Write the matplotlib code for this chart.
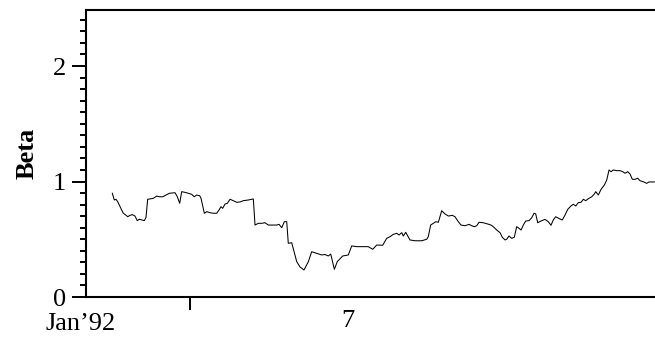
import matplotlib
matplotlib.use("Agg")
import matplotlib.pyplot as plt
import matplotlib.transforms as mtransforms
from matplotlib.ticker import MultipleLocator

# years since Jan'92
t_years = [0.253, 0.272, 0.288, 0.305, 0.324, 0.343, 0.359, 0.382, 0.401, 0.423,
           0.445, 0.471, 0.493, 0.513, 0.536, 0.561, 0.577, 0.593, 0.615, 0.647,
           0.680, 0.705, 0.738, 0.769, 0.801, 0.856, 0.878, 0.901, 0.920, 0.952,
           0.984, 1.016, 1.041, 1.064, 1.093, 1.106, 1.138, 1.161, 1.192, 1.224,
           1.257, 1.279, 1.298, 1.314, 1.337, 1.359, 1.385, 1.416, 1.449, 1.481,
           1.513, 1.561, 1.609, 1.625, 1.657, 1.689, 1.721, 1.753, 1.801, 1.834,
           1.856, 1.882, 1.907, 1.930, 1.945, 1.978, 2.026, 2.058, 2.096, 2.138,
           2.170, 2.218, 2.266, 2.298, 2.330, 2.353, 2.388, 2.416, 2.468, 2.522,
           2.555, 2.603, 2.666, 2.714, 2.757, 2.795, 2.853, 2.891, 2.923, 2.955,
           2.988, 3.010, 3.036, 3.051, 3.074, 3.115, 3.163, 3.228, 3.276, 3.291,
           3.314, 3.339, 3.363, 3.388, 3.420, 3.452, 3.484, 3.522, 3.548, 3.580,
           3.606, 3.644, 3.683, 3.709, 3.734, 3.757, 3.779, 3.820, 3.863, 3.894,
           3.916, 3.949, 3.981, 4.003, 4.029, 4.045, 4.067, 4.093, 4.118, 4.141,
           4.163, 4.183, 4.205, 4.228, 4.260, 4.286, 4.308, 4.324, 4.343, 4.375,
           4.413, 4.445, 4.471, 4.493, 4.516, 4.558, 4.580, 4.606, 4.632, 4.663,
           4.686, 4.709, 4.734, 4.760, 4.782, 4.805, 4.830, 4.863, 4.888, 4.901,
           4.926, 4.952, 4.984, 5.007, 5.029, 5.048, 5.070, 5.103, 5.135, 5.161,
           5.183, 5.209, 5.231, 5.253, 5.279, 5.305, 5.327, 5.359, 5.391, 5.413,
           5.471]

beta = [0.898, 0.840, 0.846, 0.825, 0.788, 0.753, 0.725, 0.710, 0.695, 0.707,
        0.713, 0.701, 0.661, 0.673, 0.667, 0.661, 0.690, 0.846, 0.849, 0.854,
        0.874, 0.868, 0.868, 0.883, 0.898, 0.903, 0.868, 0.811, 0.912, 0.906,
        0.898, 0.889, 0.868, 0.883, 0.877, 0.854, 0.725, 0.739, 0.730, 0.725,
        0.725, 0.753, 0.782, 0.768, 0.805, 0.811, 0.846, 0.834, 0.820, 0.823,
        0.834, 0.840, 0.849, 0.623, 0.638, 0.638, 0.643, 0.623, 0.623, 0.623,
        0.629, 0.600, 0.652, 0.652, 0.465, 0.470, 0.306, 0.260, 0.234, 0.306,
        0.392, 0.378, 0.364, 0.368, 0.355, 0.372, 0.240, 0.306, 0.355, 0.364,
        0.442, 0.436, 0.436, 0.436, 0.413, 0.450, 0.448, 0.508, 0.522, 0.543,
        0.551, 0.537, 0.557, 0.528, 0.560, 0.494, 0.487, 0.487, 0.500, 0.522,
        0.623, 0.638, 0.652, 0.647, 0.747, 0.719, 0.701, 0.707, 0.695, 0.652,
        0.623, 0.617, 0.629, 0.617, 0.609, 0.617, 0.647, 0.643, 0.632, 0.623,
        0.609, 0.580, 0.557, 0.517, 0.494, 0.500, 0.528, 0.508, 0.517, 0.609,
        0.595, 0.580, 0.623, 0.658, 0.661, 0.687, 0.725, 0.720, 0.643, 0.658,
        0.672, 0.652, 0.621, 0.667, 0.695, 0.675, 0.667, 0.710, 0.759, 0.788,
        0.803, 0.788, 0.817, 0.820, 0.846, 0.834, 0.851, 0.868, 0.892, 0.912,
        0.883, 0.932, 0.970, 1.013, 1.100, 1.085, 1.100, 1.094, 1.094, 1.085,
        1.071, 1.085, 1.065, 1.019, 1.019, 1.028, 1.007, 0.998, 0.984, 0.996,
        0.996]

x_label_left = "Jan\u201992"
x_label_mid = "7"
x_label_mid_pos = 2.52
y_label = "Beta"
y_major = [0, 1, 2]

plt.rcParams['font.family'] = ['Liberation Serif', 'DejaVu Serif']

fig = plt.figure(figsize=(6.55, 3.41), dpi=100)
ax = fig.add_axes([86/655, 44/341, 569/655, 287/341])

ax.plot(t_years, beta, color='black', linewidth=0.75)

ax.set_xlim(0, 5.471)
ax.set_ylim(0, 2.485)

for s in ['left', 'top', 'bottom']:
    ax.spines[s].set_linewidth(1.5)
ax.spines['right'].set_visible(False)

ax.set_yticks(y_major)
ax.set_yticklabels([str(v) for v in y_major], fontsize=19)
ax.yaxis.set_minor_locator(MultipleLocator(0.1))
ax.tick_params(axis='y', which='major', direction='out', length=10, width=1.4, pad=4.5)
ax.tick_params(axis='y', which='minor', direction='out', length=4.3, width=1.4)

ax.set_xticks([1])
ax.set_xticklabels([''])
ax.tick_params(axis='x', which='major', direction='out', length=9.4, width=1.4)

ax.set_ylabel(y_label, fontsize=19, fontweight='bold', labelpad=10)

trans = mtransforms.blended_transform_factory(ax.transData, ax.transAxes)
ax.text(-0.048, -0.095, x_label_left, transform=trans, fontsize=19,
        ha='center', va='center')
ax.text(x_label_mid_pos, -0.082, x_label_mid, transform=trans, fontsize=19,
        ha='center', va='center')

fig.savefig("out.png", dpi=100)
